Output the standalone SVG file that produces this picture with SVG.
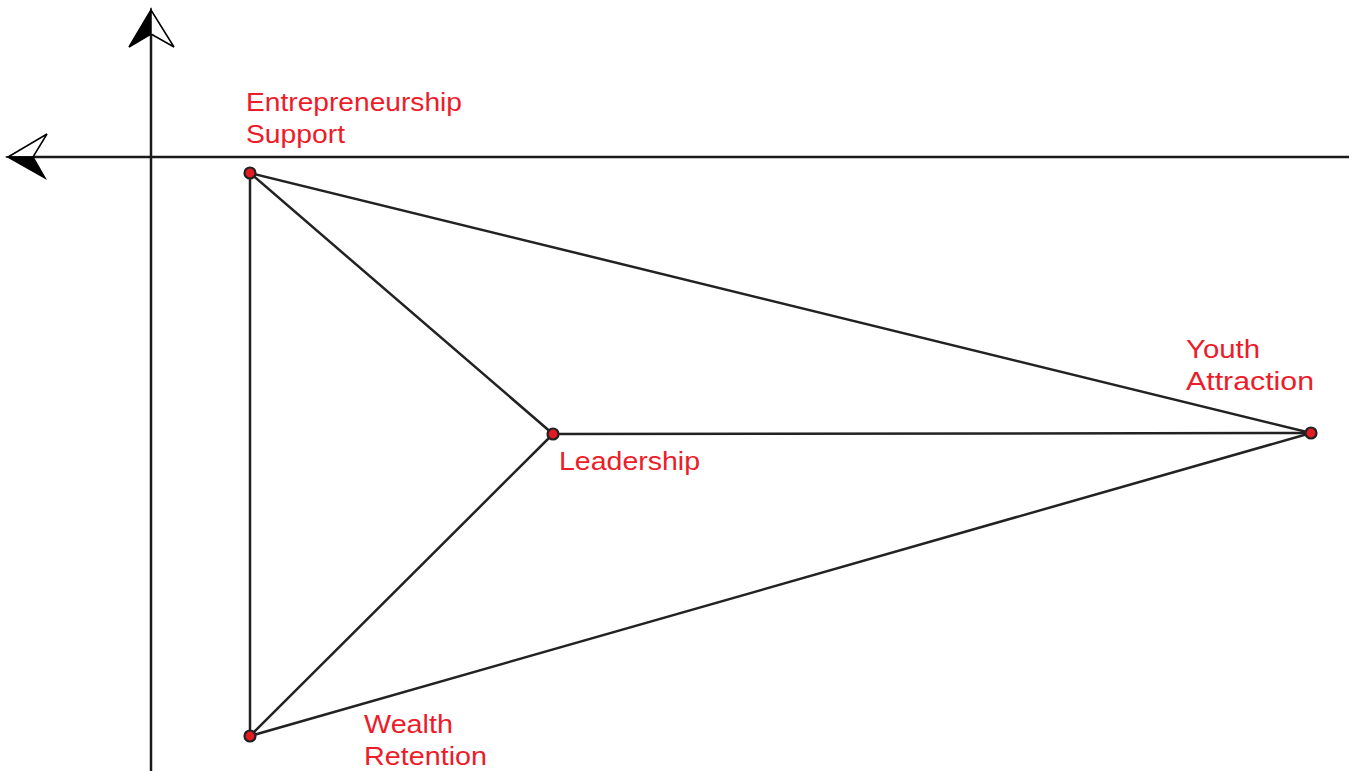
<svg xmlns="http://www.w3.org/2000/svg" width="1353" height="771" viewBox="0 0 1353 771">
  <style>
    .axis { stroke: #1a1a1a; stroke-width: 2.5; fill: none; }
    .edge { stroke: #222222; stroke-width: 2.5; fill: none; stroke-linecap: round; }
    .node { fill: #e31b23; stroke: #222222; stroke-width: 2.2; }
    .label { font-family: "Liberation Sans", Arial, sans-serif; font-size: 25px; fill: #ec1c2a; }
    .head-fill { fill: #000000; stroke: #000000; stroke-width: 1.5; stroke-linejoin: miter; }
    .head-open { fill: #ffffff; stroke: #000000; stroke-width: 1.5; stroke-linejoin: miter; }
  </style>
  <rect width="1353" height="771" fill="#ffffff"/>

  <!-- axes -->
  <g id="axes">
    <line class="axis" x1="151" y1="30" x2="151" y2="771"/>
    <line class="axis" x1="30" y1="157" x2="1349" y2="157"/>
    <!-- vertical arrowhead: left half solid, right half open -->
    <polygon class="head-fill" points="151,10 129,47 151,34"/>
    <polygon class="head-open" points="151,10 174,47 151,34"/>
    <!-- horizontal arrowhead: upper half open, lower half solid -->
    <polygon class="head-open" points="8,157 47,134 33,157"/>
    <polygon class="head-fill" points="8,157 45,178 33,157"/>
  </g>

  <!-- connectors -->
  <g id="connectors">
    <line class="edge" x1="250" y1="173" x2="250" y2="736"/>
    <line class="edge" x1="250" y1="173" x2="553" y2="434"/>
    <line class="edge" x1="250" y1="173" x2="1311" y2="433"/>
    <line class="edge" x1="553" y1="434" x2="1311" y2="433"/>
    <line class="edge" x1="553" y1="434" x2="250" y2="736"/>
    <line class="edge" x1="250" y1="736" x2="1311" y2="433"/>
  </g>

  <!-- nodes -->
  <g id="node-entrepreneurship">
    <circle class="node" cx="250" cy="173" r="5.5"/>
    <text class="label" x="246" y="111" textLength="216" lengthAdjust="spacingAndGlyphs">Entrepreneurship</text>
    <text class="label" x="246" y="143" textLength="99" lengthAdjust="spacingAndGlyphs">Support</text>
  </g>
  <g id="node-leadership">
    <circle class="node" cx="553" cy="434" r="5.5"/>
    <text class="label" x="559" y="470" textLength="141" lengthAdjust="spacingAndGlyphs">Leadership</text>
  </g>
  <g id="node-youth">
    <circle class="node" cx="1311" cy="433" r="5.5"/>
    <text class="label" x="1186" y="358" textLength="74" lengthAdjust="spacingAndGlyphs">Youth</text>
    <text class="label" x="1186" y="390" textLength="128" lengthAdjust="spacingAndGlyphs">Attraction</text>
  </g>
  <g id="node-wealth">
    <circle class="node" cx="250" cy="736" r="5.5"/>
    <text class="label" x="364" y="733" textLength="89" lengthAdjust="spacingAndGlyphs">Wealth</text>
    <text class="label" x="364" y="765" textLength="123" lengthAdjust="spacingAndGlyphs">Retention</text>
  </g>
</svg>
